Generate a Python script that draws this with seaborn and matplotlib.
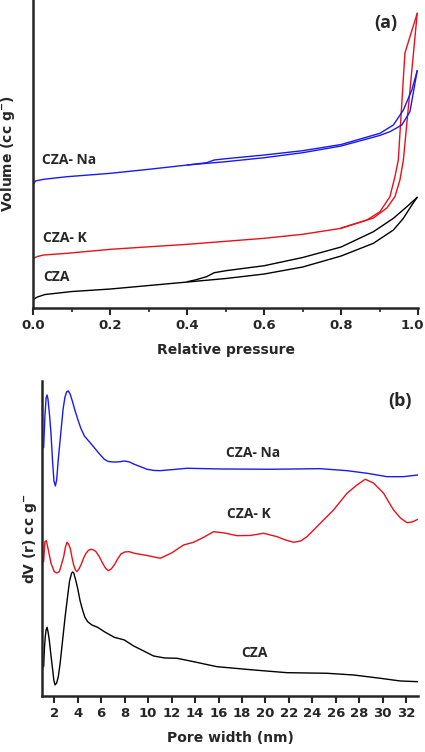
import pandas as pd
import seaborn as sns
import matplotlib.pyplot as plt
from matplotlib.transforms import ScaledTranslation

# (a) N2 isotherms: relative pressure vs volume (arbitrary units, y axis has no ticks)
cza_ads_p = [0.0, 0.01, 0.03, 0.1, 0.2, 0.3, 0.4, 0.5, 0.6, 0.7, 0.8, 0.884, 0.936, 0.962, 0.984, 0.998]
cza_ads_v = [8.7, 11, 13.5, 16.5, 19, 22.5, 26, 29.5, 34, 41, 52, 64.7, 78, 89.7, 103, 110.7]
cza_des_p = [0.998, 0.971, 0.936, 0.884, 0.8, 0.7, 0.6, 0.5, 0.47, 0.45, 0.42, 0.4]
cza_des_v = [110.7, 101.3, 89.7, 76.3, 61, 50.5, 42.3, 37.3, 35.3, 31.3, 28, 26.3]

k_ads_p = [0.0, 0.01, 0.026, 0.087, 0.2, 0.4, 0.6, 0.7, 0.8, 0.884, 0.919, 0.940, 0.953, 0.962, 0.998]
k_ads_v = [49.7, 51.5, 53, 54.7, 58.7, 63.7, 69.7, 73.7, 79.7, 90, 100, 111.3, 128, 148, 294.7]
k_des_p = [0.998, 0.966, 0.9488, 0.940, 0.927, 0.901, 0.867, 0.8]
k_des_v = [294.7, 255, 148, 131.3, 111.3, 96.3, 88, 80]

na_ads_p = [0.0, 0.005, 0.026, 0.087, 0.2, 0.3, 0.4, 0.5, 0.6, 0.7, 0.8, 0.9, 0.927, 0.958, 0.979, 0.998]
na_ads_v = [124, 127, 128.7, 131.3, 134.7, 138.7, 143, 146.3, 150.3, 155.3, 162, 172.5, 176.3, 183, 196.3, 237.3]
na_des_p = [0.998, 0.984, 0.962, 0.936, 0.901, 0.8, 0.7, 0.6, 0.5, 0.47, 0.45, 0.4]
na_des_v = [237.3, 218, 198, 183, 174.7, 163.5, 157.3, 153, 149.3, 148, 145.3, 143]

# (b) pore size distribution: pore width (nm) vs dV(r) (arbitrary units)
na_w = [1.09, 1.2, 1.3, 1.38, 1.46, 1.6, 1.72, 1.85, 1.97, 2.09, 2.2, 2.35, 2.57, 2.75, 2.91,
        3.05, 3.19, 3.35, 3.56, 3.75, 3.99, 4.25, 4.56, 5.0, 5.41, 5.85, 6.26, 6.6, 6.97,
        7.3, 7.63, 7.97, 8.4, 8.76, 9.3, 9.9, 10.5, 11.03, 12.2, 13.31, 16.15, 20.4, 24.67,
        26.95, 28.65, 30.36, 31.77, 33.0]
na_dv = [248.3, 280, 298, 301, 297, 280, 262, 235, 215, 210, 216, 238, 265, 287, 299,
         304, 305, 302, 294, 286, 277, 268, 260, 254, 248.3, 242, 236.7, 234.5, 234,
         234, 234.3, 235, 234, 232, 229.5, 226.7, 225.5, 225.3, 226.5, 227.7, 227, 226.7, 227.3,
         225.3, 222.7, 219.3, 219.3, 221]

k_w = [1.09, 1.2, 1.32, 1.49, 1.72, 2.0, 2.2, 2.43, 2.6, 2.8, 2.95, 3.08, 3.2, 3.36, 3.5,
       3.65, 3.8, 3.93, 4.1, 4.27, 4.5, 4.7, 4.9, 5.13, 5.35, 5.55, 5.85, 6.12, 6.35, 6.6,
       6.85, 7.11, 7.4, 7.68, 8.0, 8.39, 8.82, 9.9, 11.03, 12.0, 13.02, 13.87, 14.7, 15.58,
       16.5, 17.57, 18.7, 19.84, 20.98, 21.7, 22.4, 23.0, 23.54, 24.67, 25.8, 26.95, 27.8,
       28.5, 29.2, 30.07, 30.5, 30.92, 31.5, 32.06, 32.5, 33.0]
k_dv = [134.3, 154.3, 155.3, 146, 132.7, 124.3, 123, 124.3, 131, 139.3, 149, 153.7, 152,
        147.7, 139, 131, 126, 124.3, 127, 131, 138, 142.7, 145.5, 146.7, 146, 144.3, 139,
        132.7, 128, 125.3, 127, 131, 137, 142, 144, 144.3, 142.7, 140.5, 137.7, 143, 151,
        153.7, 158.5, 164.3, 163, 160.3, 160.5, 162.7, 159.3, 156, 153.7, 155, 159.3, 172.7,
        186, 202.7, 211, 216.7, 213, 202.7, 194, 186, 178, 173.3, 174, 176.7]

cza_w = [1.09, 1.16, 1.23, 1.3, 1.38, 1.47, 1.57, 1.72, 1.86, 1.96, 2.06, 2.2, 2.34, 2.5,
         2.71, 2.92, 3.13, 3.3, 3.47, 3.56, 3.65, 3.82, 3.99, 4.2, 4.41, 4.6, 4.84, 5.2,
         5.69, 6.26, 7.11, 7.97, 8.76, 9.33, 10.46, 11.4, 12.46, 13.87, 15.86, 18.99, 21.83,
         25.24, 27.51, 29.78, 31.49, 33.0]
cza_dv = [29.3, 48, 59.3, 66, 68.7, 64, 56, 40, 26, 16, 11, 13, 19.3, 33, 56, 79, 99.3, 115,
          122.7, 124, 123.3, 116, 107.7, 95, 86, 79, 74.3, 71, 68.7, 64.3, 58.7, 56, 50,
          46.7, 40, 38, 37.7, 34.3, 29.3, 26, 23.3, 22.7, 21, 17.7, 15, 14.3]

sample_names = ["CZA", "CZA- K", "CZA- Na"]
colors = ["black", "#e8101a", "#1a1aee"]

sns.set_style("ticks")
plt.rcParams["font.family"] = ["DejaVu Sans"]

fig = plt.figure(figsize=(4.25, 7.52), dpi=100)
ax1 = fig.add_axes([0.0788, 0.5904, 0.9047, 0.4096])
ax2 = fig.add_axes([0.0988, 0.0745, 0.8847, 0.4189])

# 吸着・脱着の両ブランチを描く
branches = [
    (cza_ads_p, cza_ads_v, cza_des_p, cza_des_v),
    (k_ads_p, k_ads_v, k_des_p, k_des_v),
    (na_ads_p, na_ads_v, na_des_p, na_des_v),
]
for (ap, av, dp, dv), c in zip(branches, colors):
    sns.lineplot(x=ap, y=av, sort=False, estimator=None, color=c, lw=1.0, ax=ax1)
    sns.lineplot(x=dp, y=dv, sort=False, estimator=None, color=c, lw=1.0, ax=ax1)

ax1.set_xlim(0, 1.0)
ax1.set_ylim(0, 308)
ax1.set_xticks([0.0, 0.2, 0.4, 0.6, 0.8, 1.0])
ax1.set_xticks([0.1, 0.3, 0.5, 0.7, 0.9], minor=True)
ax1.set_yticks([])
ax1.set_xlabel("Relative pressure", fontsize=10, fontweight="bold", labelpad=8)
ax1.set_ylabel("Volume (cc g$^{\\mathbf{-}}$)", fontsize=10, fontweight="bold", labelpad=12)

lab_font = dict(fontsize=10, fontweight="bold", family=["Open Sans", "DejaVu Sans"])
ax1.text(0.022, 148, "CZA- Na", ha="left", va="center", **lab_font)
ax1.text(0.025, 70, "CZA- K", ha="left", va="center", **lab_font)
ax1.text(0.025, 31, "CZA", ha="left", va="center", **lab_font)
ax1.text(0.917, 285, "(a)", ha="center", va="center", fontsize=13, fontweight="bold",
         family=["Open Sans", "DejaVu Sans"])

psd = [(cza_w, cza_dv), (k_w, k_dv), (na_w, na_dv)]
for (w, d), c in zip(psd, colors):
    df = pd.DataFrame({"width": w, "dv": d})
    sns.lineplot(data=df, x="width", y="dv", estimator=None, color=c, lw=1.0, ax=ax2)

ax2.set_xlim(0.95, 33)
ax2.set_ylim(0, 315)
ax2.set_xticks(list(range(2, 33, 2)))
ax2.set_yticks([])
ax2.set_xlabel("Pore width (nm)", fontsize=10, fontweight="bold", labelpad=8)
ax2.set_ylabel("dV (r) cc g$^{\\mathbf{-}}$", fontsize=10, fontweight="bold", labelpad=2)

ax2.text(18.9, 242.7, "CZA- Na", ha="center", va="center", **lab_font)
ax2.text(18.6, 181.7, "CZA- K", ha="center", va="center", **lab_font)
ax2.text(19.05, 43.3, "CZA", ha="center", va="center", **lab_font)
ax2.text(31.5, 295, "(b)", ha="center", va="center", fontsize=13, fontweight="bold",
         family=["Open Sans", "DejaVu Sans"])

for ax in (ax1, ax2):
    sns.despine(ax=ax)
    ax.spines["left"].set_linewidth(1.8)
    ax.spines["bottom"].set_linewidth(1.8)
    ax.tick_params(axis="x", which="major", direction="out", length=5, width=1.5,
                   labelsize=9.5, pad=3)
    ax.tick_params(axis="x", which="minor", direction="out", length=3, width=1.2)
    for t in ax.get_xticklabels():
        t.set_fontweight("bold")

# 右端の "1.0" が切れないよう少し左へ
last = ax1.get_xticklabels()[-1]
last.set_transform(last.get_transform() + ScaledTranslation(-4 / 72, 0, fig.dpi_scale_trans))

fig.savefig("out.png", dpi=100)
